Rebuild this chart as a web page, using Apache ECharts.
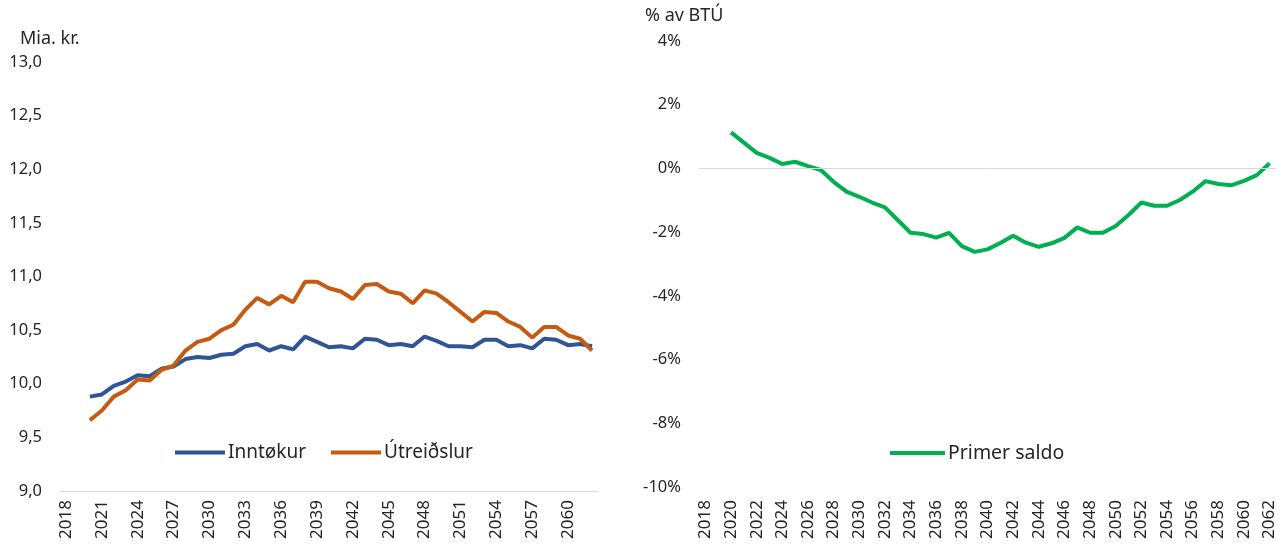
<!DOCTYPE html>
<html>
<head>
<meta charset="utf-8">
<script src="https://cdn.jsdelivr.net/npm/echarts@6/dist/echarts.min.js"></script>
<style>
  html, body { margin: 0; padding: 0; background: #fff; }
  #chart { width: 1288px; height: 555px; }
</style>
</head>
<body>
<div id="chart"></div>
<script>
  // ár 2018-2062
  const years = [];
  for (let y = 2018; y <= 2062; y++) years.push(String(y));

  // vinstri mynd, mia. kr. (2020-2062)
  const inntokur = [null, null,
    9.88, 9.90, 9.98, 10.02, 10.08, 10.07, 10.14, 10.16, 10.23, 10.25,
    10.24, 10.27, 10.28, 10.35, 10.37, 10.31, 10.35, 10.32, 10.44, 10.39,
    10.34, 10.35, 10.33, 10.42, 10.41, 10.36, 10.37, 10.35, 10.44, 10.40,
    10.35, 10.35, 10.34, 10.41, 10.41, 10.35, 10.36, 10.33, 10.42, 10.41,
    10.36, 10.37, 10.35];
  const utreidslur = [null, null,
    9.66, 9.75, 9.88, 9.94, 10.04, 10.03, 10.13, 10.17, 10.31, 10.39,
    10.42, 10.50, 10.55, 10.69, 10.80, 10.74, 10.82, 10.76, 10.95, 10.95,
    10.89, 10.86, 10.79, 10.92, 10.93, 10.86, 10.84, 10.75, 10.87, 10.84,
    10.76, 10.67, 10.58, 10.67, 10.66, 10.58, 10.53, 10.43, 10.53, 10.53,
    10.45, 10.42, 10.31];

  // hægri mynd, % av BTÚ (2020-2062)
  const primerSaldo = [null, null,
    1.13, 0.81, 0.49, 0.33, 0.14, 0.21, 0.07, -0.05, -0.42, -0.73,
    -0.89, -1.07, -1.22, -1.62, -2.02, -2.06, -2.17, -2.02, -2.44, -2.62,
    -2.54, -2.34, -2.11, -2.33, -2.46, -2.35, -2.18, -1.85, -2.02, -2.02,
    -1.81, -1.46, -1.07, -1.17, -1.17, -0.99, -0.73, -0.40, -0.49, -0.53,
    -0.39, -0.21, 0.16];

  const font = 'Noto Sans';
  const txt = '#262626';

  const myChart = echarts.init(document.getElementById('chart'));
  const option = {
    animation: false,
    textStyle: { fontFamily: font },
    title: [
      { text: 'Mia. kr.', left: 20, top: 30, padding: 0, textStyle: { fontFamily: font, fontSize: 18, fontWeight: 'normal', color: txt } },
      { text: '% av BTÚ', left: 645, top: 7, padding: 0, textStyle: { fontFamily: font, fontSize: 18, fontWeight: 'normal', color: txt } }
    ],
    legend: [
      {
        data: ['Inntøkur', 'Útreiðslur'],
        left: 170, top: 438,
        icon: 'rect', itemWidth: 50, itemHeight: 4, itemGap: 25,
        textStyle: { fontFamily: font, fontSize: 19, color: txt, padding: [0, 0, 0, -2] }
      },
      {
        data: ['Primer saldo'],
        left: 885, top: 438,
        icon: 'rect', itemWidth: 55, itemHeight: 4,
        textStyle: { fontFamily: font, fontSize: 19.5, color: txt, padding: [0, 0, 0, -2] }
      }
    ],
    grid: [
      { left: 60, width: 538, top: 62, height: 429 },
      { left: 699, width: 577, top: 41, height: 446 }
    ],
    xAxis: [
      {
        gridIndex: 0, type: 'category', data: years, boundaryGap: true,
        axisTick: { show: false },
        axisLine: { lineStyle: { color: '#d9d9d9', width: 1 } },
        axisLabel: { interval: 2, rotate: 90, fontSize: 17, color: txt, fontFamily: font, margin: 9 }
      },
      {
        gridIndex: 1, type: 'category', data: years, boundaryGap: true,
        axisTick: { show: false },
        axisLine: { show: false },
        axisLabel: { interval: 1, rotate: 90, fontSize: 17, color: txt, fontFamily: font, margin: 13 }
      }
    ],
    yAxis: [
      {
        gridIndex: 0, type: 'value', min: 9, max: 13, interval: 0.5,
        splitLine: { show: false }, axisLine: { show: false }, axisTick: { show: false },
        axisLabel: {
          fontSize: 16.5, color: txt, fontFamily: font, margin: 18,
          formatter: v => v.toFixed(1).replace('.', ',')
        }
      },
      {
        gridIndex: 1, type: 'value', min: -10, max: 4, interval: 2,
        splitLine: { show: false }, axisLine: { show: false }, axisTick: { show: false },
        axisLabel: {
          fontSize: 16.5, color: txt, fontFamily: font, margin: 18,
          formatter: v => v + '%'
        }
      }
    ],
    series: [
      {
        name: 'Inntøkur', type: 'line', xAxisIndex: 0, yAxisIndex: 0,
        data: inntokur, showSymbol: false, symbol: 'none',
        lineStyle: { color: '#2F5597', width: 4 }, itemStyle: { color: '#2F5597' }
      },
      {
        name: 'Útreiðslur', type: 'line', xAxisIndex: 0, yAxisIndex: 0,
        data: utreidslur, showSymbol: false, symbol: 'none',
        lineStyle: { color: '#C55A11', width: 4 }, itemStyle: { color: '#C55A11' }
      },
      {
        name: 'Primer saldo', type: 'line', xAxisIndex: 1, yAxisIndex: 1,
        data: primerSaldo, showSymbol: false, symbol: 'none',
        lineStyle: { color: '#00B050', width: 4 }, itemStyle: { color: '#00B050' },
        // 0%-línan
        markLine: {
          silent: true, symbol: 'none', label: { show: false },
          lineStyle: { color: '#d9d9d9', type: 'solid', width: 1 },
          data: [{ yAxis: 0 }]
        },
        z: 3
      }
    ]
  };
  myChart.setOption(option);
</script>
</body>
</html>
